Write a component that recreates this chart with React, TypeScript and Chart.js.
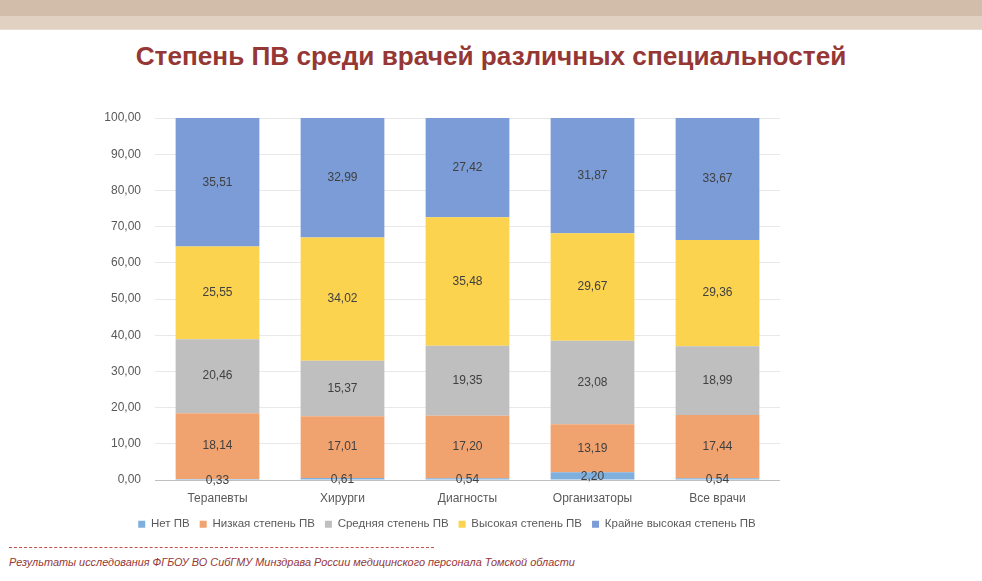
import React, { useEffect, useRef } from "react";
import { Chart, registerables } from "chart.js";

Chart.register(...registerables);

const categories = ["Терапевты", "Хирурги", "Диагносты", "Организаторы", "Все врачи"];
const seriesNames = ["Нет ПВ", "Низкая степень ПВ", "Средняя степень ПВ", "Высокая степень ПВ", "Крайне высокая степень ПВ"];
const netPV = [0.33, 0.61, 0.54, 2.2, 0.54];
const nizkaya = [18.14, 17.01, 17.2, 13.19, 17.44];
const srednyaya = [20.46, 15.37, 19.35, 23.08, 18.99];
const vysokaya = [25.55, 34.02, 35.48, 29.67, 29.36];
const kraineVysokaya = [35.51, 32.99, 27.42, 31.87, 33.67];
const seriesColors = ["#7fafdc", "#f1a36f", "#bfbfbf", "#fcd34f", "#7b9cd6"];

const FONT = "'Liberation Sans', Arial, sans-serif";
const fmt = (v: number) => v.toFixed(2).replace(".", ",");

const labelsPlugin = {
  id: "segLabels",
  afterDatasetsDraw(chart: any) {
    const ctx = chart.ctx;
    ctx.save();
    ctx.font = `12px ${FONT}`;
    ctx.fillStyle = "#404040";
    ctx.textAlign = "center";
    ctx.textBaseline = "middle";
    chart.data.datasets.forEach((ds: any, di: number) => {
      const meta = chart.getDatasetMeta(di);
      meta.data.forEach((el: any, i: number) => {
        const p = el.getProps(["x", "y", "base"], true);
        const cy = (p.y + p.base) / 2 + (di === 0 ? 1 : 0);
        ctx.fillText(fmt(ds.data[i]), p.x, cy);
      });
    });
    ctx.restore();
  },
};

export default function App() {
  const ref = useRef<HTMLCanvasElement | null>(null);
  useEffect(() => {
    if (!ref.current) return;
    const all = [netPV, nizkaya, srednyaya, vysokaya, kraineVysokaya];
    const chart = new Chart(ref.current, {
      type: "bar",
      data: {
        labels: categories,
        datasets: all.map((d, i) => ({
          label: seriesNames[i],
          data: d,
          backgroundColor: seriesColors[i],
          borderWidth: 0,
          categoryPercentage: 1,
          barPercentage: 0.67,
        })),
      },
      options: {
        animation: false,
        responsive: true,
        maintainAspectRatio: false,
        layout: { padding: { left: 90, right: 178, top: 28, bottom: 0 } },
        plugins: {
          legend: {
            position: "bottom",
            labels: {
              boxWidth: 7,
              boxHeight: 7,
              padding: 10,
              color: "#595959",
              font: { family: FONT, size: 11.5 },
            },
          },
          tooltip: { enabled: false },
        },
        scales: {
          x: {
            stacked: true,
            grid: { display: false },
            border: { display: false },
            ticks: { color: "#595959", font: { family: FONT, size: 12 }, padding: 3 },
          },
          y: {
            stacked: true,
            min: 0,
            max: 100,
            border: { display: false },
            grid: {
              drawTicks: false,
              color: (c: any) => (c.tick && c.tick.value === 0 ? "#bfbfbf" : "#e8e8e8"),
            },
            ticks: {
              stepSize: 10,
              padding: 14,
              color: "#595959",
              font: { family: FONT, size: 12 },
              callback: (v: any) => fmt(Number(v)),
            },
            afterFit: (s: any) => {
              s.width = 65;
            },
          },
          yRight: {
            position: "right",
            display: true,
            grid: { display: false, drawTicks: false },
            border: { display: false },
            ticks: { display: false },
            afterFit: (s: any) => {
              s.width = 24;
            },
          },
        },
      },
      plugins: [labelsPlugin],
    });
    return () => chart.destroy();
  }, []);

  return (
    <div style={{ position: "absolute", left: 0, top: 0, width: 982, height: 581, background: "#fff", overflow: "hidden", fontFamily: FONT }}>
      <div style={{ position: "absolute", left: 0, top: 0, width: 982, height: 16, background: "#d1bda9" }} />
      <div style={{ position: "absolute", left: 0, top: 16, width: 982, height: 13, background: "#e1d1c3" }} />
      <div style={{ position: "absolute", left: 0, top: 29, width: 982, height: 1, background: "#e8ddd2" }} />
      <div style={{ position: "absolute", left: 0, top: 40, width: 982, height: 32, lineHeight: "32px", textAlign: "center", fontSize: 26.2, fontWeight: "bold", color: "#953735" }}>
        Степень ПВ среди врачей различных специальностей
      </div>
      <div style={{ position: "absolute", left: 0, top: 90, width: 982, height: 450 }}>
        <canvas ref={ref} />
      </div>
      <div style={{ position: "absolute", left: 9, top: 547, width: 425, height: 0, borderTop: "1px dashed #c0504d" }} />
      <div style={{ position: "absolute", left: 9, top: 554, fontSize: 10.9, fontStyle: "italic", color: "#953735", whiteSpace: "nowrap", lineHeight: "16px" }}>
        Результаты исследования ФГБОУ ВО СибГМУ Минздрава России медицинского персонала Томской области
      </div>
    </div>
  );
}
